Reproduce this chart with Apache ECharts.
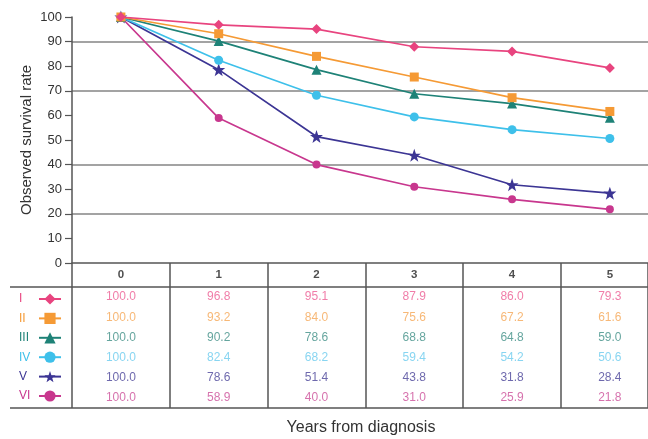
<!DOCTYPE html>
<html><head><meta charset="utf-8">
<script src="https://cdn.jsdelivr.net/npm/echarts@6/dist/echarts.min.js"></script>
<style>html,body{margin:0;padding:0;background:#fff}#c{width:648px;height:439px}</style>
</head><body><div id="c"></div>
<script>
const years = [0, 1, 2, 3, 4, 5];
const stages = ['I','II','III','IV','V','VI'];
const stageI   = [100.0, 96.8, 95.1, 87.9, 86.0, 79.3];
const stageII  = [100.0, 93.2, 84.0, 75.6, 67.2, 61.6];
const stageIII = [100.0, 90.2, 78.6, 68.8, 64.8, 59.0];
const stageIV  = [100.0, 82.4, 68.2, 59.4, 54.2, 50.6];
const stageV   = [100.0, 78.6, 51.4, 43.8, 31.8, 28.4];
const stageVI  = [100.0, 58.9, 40.0, 31.0, 25.9, 21.8];
const yTicks = [0,10,20,30,40,50,60,70,80,90,100];

const seriesData = [stageI, stageII, stageIII, stageIV, stageV, stageVI];
const colors = ['#e8447f','#f59a35','#1e8277','#3ec0ea','#3c3594','#c8378e'];
const labelColors = ['#ec5d92','#f5a655','#3f8f86','#6acbed','#4a4398','#cc4f98'];
const star = 'path://M0,-10 L2.4,-3.1 9.5,-3.1 3.8,1.2 5.9,8.1 0,4 -5.9,8.1 -3.8,1.2 -9.5,-3.1 -2.4,-3.1 Z';
const symbols = ['diamond','rect','triangle','circle',star,'circle'];
const symSizes = [10,9,10,9,13,8];
const font = '"Liberation Sans", Arial, sans-serif';

const gridLineColors = yTicks.map(t => [20,40,70,90].includes(t) ? '#848484' : 'rgba(0,0,0,0)');

// x range: columns are ~97.8px wide, the last column runs past the right edge
const xMin = -0.5, xMax = 5.39;

const series = [];
seriesData.forEach((d, k) => {
  series.push({
    name: stages[k], type: 'line', data: d.map((v, i) => [years[i], v]), xAxisIndex: 0, yAxisIndex: 0,
    symbol: symbols[k], symbolSize: symSizes[k], showSymbol: true,
    lineStyle: {color: colors[k], width: 1.7},
    itemStyle: {color: colors[k]},
    z: 10 - k
  });
});
series.push({
  name: 'hdr', type: 'scatter', xAxisIndex: 1, yAxisIndex: 1, silent: true, symbolSize: 0,
  data: years.map(y => [y, 'h']),
  label: {show: true, position: 'inside', color: '#222', fontSize: 11.5, fontWeight: 'bold', fontFamily: font,
    formatter: p => String(years[p.dataIndex])}
});
seriesData.forEach((d, k) => {
  series.push({
    name: 'tbl' + k, type: 'scatter', xAxisIndex: 2, yAxisIndex: 2,
    data: d.map((v, i) => [years[i], stages[k]]),
    symbolSize: 0, silent: true,
    label: {show: true, position: 'inside', color: labelColors[k], fontSize: 12, fontFamily: font,
      formatter: p => d[p.dataIndex].toFixed(1)}
  });
});

const tableX = (gi) => ({type: 'value', gridIndex: gi, min: xMin, max: xMax, interval: 1,
  axisLine: {show: false}, axisTick: {show: false}, axisLabel: {show: false},
  splitLine: {show: true, lineStyle: {color: '#555', width: 1.5}}});

const legendRich = {};
stages.forEach((s, k) => {
  legendRich['s' + k] = {width: 15, align: 'left', color: colors[k], fontSize: 12, fontFamily: font};
});

const chart = echarts.init(document.getElementById('c'), null, {renderer: 'canvas'});
chart.setOption({
  animation: false,
  backgroundColor: '#fff',
  grid: [
    {left: 72, top: 17, right: 0, height: 246},
    {left: 72, top: 263, right: 0, height: 24},
    {left: 72, top: 287, right: 0, height: 121}
  ],
  xAxis: [
    {type: 'value', gridIndex: 0, min: xMin, max: xMax, interval: 1,
     axisLine: {show: true, onZero: false, lineStyle: {color: '#555', width: 1.5}},
     axisTick: {show: false}, axisLabel: {show: false}, splitLine: {show: false}},
    tableX(1), tableX(2)
  ],
  yAxis: [
    {type: 'value', gridIndex: 0, min: 0, max: 100, interval: 10,
     name: 'Observed survival rate', nameLocation: 'middle', nameGap: 38, nameMoveOverlap: false,
     nameTextStyle: {fontSize: 15, color: '#333', fontFamily: font},
     axisLine: {show: true, onZero: false, lineStyle: {color: '#555', width: 1.5}},
     axisTick: {show: true, length: 7, lineStyle: {color: '#555', width: 1.2}},
     axisLabel: {margin: 10, fontSize: 13, color: '#333', fontFamily: font},
     splitLine: {show: true, lineStyle: {color: gridLineColors, width: 1.5}}},
    {type: 'category', gridIndex: 1, data: ['h'], show: false},
    {type: 'category', gridIndex: 2, data: stages, inverse: true, show: false}
  ],
  legend: {
    data: stages.slice(),
    orient: 'vertical', left: 14, top: 287, align: 'right',
    itemWidth: 22, itemHeight: 14, itemGap: 5.4, selectedMode: false,
    formatter: name => '{s' + stages.indexOf(name) + '|' + name + '}',
    textStyle: {fontSize: 12, fontFamily: font, lineHeight: 14, rich: legendRich}
  },
  graphic: [
    {type: 'line', shape: {x1: 10, y1: 287, x2: 648, y2: 287}, style: {stroke: '#555', lineWidth: 1.5}},
    {type: 'line', shape: {x1: 10, y1: 408, x2: 648, y2: 408}, style: {stroke: '#555', lineWidth: 1.5}},
    {type: 'text', x: 361, y: 428, style: {text: 'Years from diagnosis', fontSize: 16, fill: '#333',
      fontFamily: font, textAlign: 'center', textVerticalAlign: 'middle'}}
  ],
  series: series
});
</script></body></html>
